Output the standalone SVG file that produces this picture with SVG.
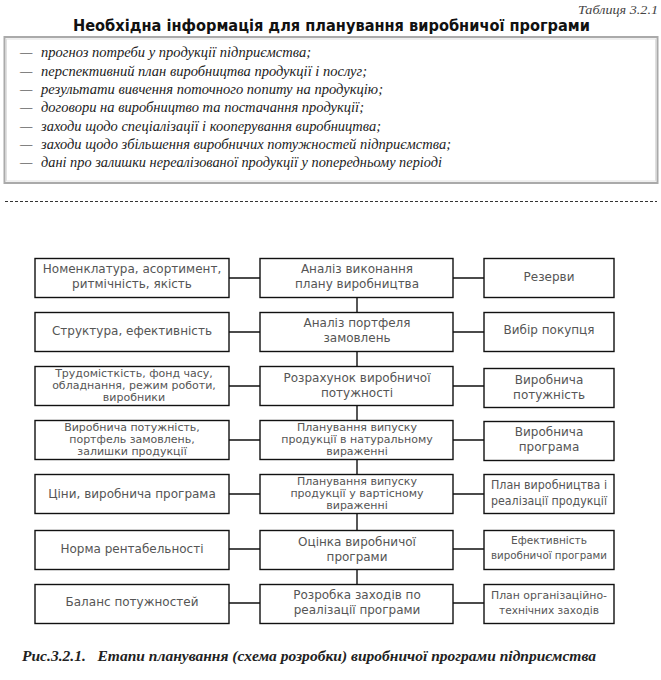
<svg xmlns="http://www.w3.org/2000/svg" width="661" height="680" viewBox="0 0 661 680">
<style>
.bx{fill:#fff;stroke:#111;stroke-width:1.4}
.t{font-family:"DejaVu Sans",sans-serif;font-size:12px;fill:#555;text-anchor:middle}
.ts{font-family:"DejaVu Sans",sans-serif;font-size:11px;fill:#555;text-anchor:middle}
.c{stroke:#111;stroke-width:1.4;fill:none}
.li{font-family:"Liberation Serif",serif;font-style:italic;font-size:14px;fill:#222}
</style>
<rect width="661" height="680" fill="#fff"/>
<text x="658" y="14" font-family="Liberation Serif,serif" font-style="italic" font-size="13" fill="#444" text-anchor="end" textLength="80" lengthAdjust="spacingAndGlyphs">Таблиця 3.2.1</text>
<text x="331.5" y="31" font-family="DejaVu Sans,sans-serif" font-weight="bold" font-size="15" fill="#111" text-anchor="middle" textLength="517" lengthAdjust="spacingAndGlyphs">Необхідна інформація для планування виробничої програми</text>
<g id="table">
<rect x="4.5" y="37" width="653" height="146" fill="#fff" stroke="#aaa" stroke-width="2"/>
<rect x="6.5" y="39" width="649" height="142" fill="none" stroke="#e0e0e0" stroke-width="1"/>
<g class="li">
<text x="20" y="57">—</text><text x="41" y="57" textLength="270" lengthAdjust="spacingAndGlyphs">прогноз потреби у продукції підприємства;</text>
<text x="20" y="75.5">—</text><text x="41" y="75.5" textLength="326" lengthAdjust="spacingAndGlyphs">перспективний план виробництва продукції і послуг;</text>
<text x="20" y="94">—</text><text x="41" y="94" textLength="342" lengthAdjust="spacingAndGlyphs">результати вивчення поточного попиту на продукцію;</text>
<text x="20" y="112">—</text><text x="41" y="112" textLength="323" lengthAdjust="spacingAndGlyphs">договори на виробництво та постачання продукції;</text>
<text x="20" y="130.5">—</text><text x="41" y="130.5" textLength="340" lengthAdjust="spacingAndGlyphs">заходи щодо спеціалізації і кооперування виробництва;</text>
<text x="20" y="149">—</text><text x="41" y="149" textLength="410" lengthAdjust="spacingAndGlyphs">заходи щодо збільшення виробничих потужностей підприємства;</text>
<text x="20" y="167">—</text><text x="41" y="167" textLength="401" lengthAdjust="spacingAndGlyphs">дані про залишки нереалізованої продукції у попередньому періоді</text>
</g>
</g>
<line x1="5" y1="201.5" x2="657" y2="201.5" stroke="#333" stroke-width="1" stroke-dasharray="3,2"/>
<g id="connectors">
<path class="c" d="M229 278H260M453 278H484M229 332H260M453 332H484M229 386H260M453 386H484M229 440H260M453 440H484M229 494H260M453 494H484M229 549H260M453 549H484M229 603H260M453 603H484"/>
<path class="c" d="M357 297V312M357 351V366M357 405V420M357 459V474M357 513V530M357 569V584"/>
</g>
<g id="l1"><rect class="bx" x="35" y="258.5" width="194" height="39"/><text class="t" x="132" y="273">Номенклатура, асортимент,</text><text class="t" x="132" y="288">ритмічність, якість</text></g>
<g id="c1"><rect class="bx" x="260" y="258.5" width="193" height="39"/><text class="t" x="357" y="273">Аналіз виконання</text><text class="t" x="357" y="288">плану виробництва</text></g>
<g id="r1"><rect class="bx" x="484" y="258.5" width="130" height="39"/><text class="t" x="549" y="281">Резерви</text></g>
<g id="l2"><rect class="bx" x="35" y="312.5" width="194" height="39"/><text class="t" x="132" y="335">Структура, ефективність</text></g>
<g id="c2"><rect class="bx" x="260" y="312.5" width="193" height="39"/><text class="t" x="357" y="327">Аналіз портфеля</text><text class="t" x="357" y="342">замовлень</text></g>
<g id="r2"><rect class="bx" x="484" y="312.5" width="130" height="39"/><text class="t" x="549" y="334">Вибір покупця</text></g>
<g id="l3"><rect class="bx" x="35" y="366.5" width="194" height="39"/><text class="ts" x="134" y="377">Трудомісткість, фонд часу,</text><text class="ts" x="134" y="389">обладнання, режим роботи,</text><text class="ts" x="134" y="401">виробники</text></g>
<g id="c3"><rect class="bx" x="260" y="366.5" width="193" height="39"/><text class="t" x="357" y="382">Розрахунок виробничої</text><text class="t" x="357" y="397">потужності</text></g>
<g id="r3"><rect class="bx" x="484" y="368.5" width="130" height="39"/><text class="t" x="549" y="384">Виробнича</text><text class="t" x="549" y="399">потужність</text></g>
<g id="l4"><rect class="bx" x="35" y="420.5" width="194" height="39"/><text class="ts" x="132" y="431">Виробнича потужність,</text><text class="ts" x="132" y="443">портфель замовлень,</text><text class="ts" x="132" y="455">залишки продукції</text></g>
<g id="c4"><rect class="bx" x="260" y="420.5" width="193" height="39"/><text class="ts" x="357" y="431">Планування випуску</text><text class="ts" x="357" y="443">продукції в натуральному</text><text class="ts" x="357" y="455">вираженні</text></g>
<g id="r4"><rect class="bx" x="484" y="421.5" width="130" height="39"/><text class="t" x="549" y="436">Виробнича</text><text class="t" x="549" y="451">програма</text></g>
<g id="l5"><rect class="bx" x="35" y="474.5" width="194" height="39"/><text class="t" x="132" y="498">Ціни, виробнича програма</text></g>
<g id="c5"><rect class="bx" x="260" y="474.5" width="193" height="39"/><text class="ts" x="357" y="485">Планування випуску</text><text class="ts" x="357" y="497">продукції у вартісному</text><text class="ts" x="357" y="509">вираженні</text></g>
<g id="r5"><rect class="bx" x="484" y="474.5" width="130" height="39"/><text class="t" x="549" y="489" textLength="116" lengthAdjust="spacingAndGlyphs">План виробництва і</text><text class="t" x="549" y="505" textLength="116" lengthAdjust="spacingAndGlyphs">реалізації продукції</text></g>
<g id="l6"><rect class="bx" x="35" y="530.5" width="194" height="39"/><text class="t" x="132" y="553">Норма рентабельності</text></g>
<g id="c6"><rect class="bx" x="260" y="530.5" width="193" height="39"/><text class="t" x="357" y="546">Оцінка виробничої</text><text class="t" x="357" y="561">програми</text></g>
<g id="r6"><rect class="bx" x="484" y="530.5" width="130" height="39"/><text class="ts" x="549" y="544" textLength="76" lengthAdjust="spacingAndGlyphs">Ефективність</text><text class="ts" x="549" y="559" textLength="116" lengthAdjust="spacingAndGlyphs">виробничої програми</text></g>
<g id="l7"><rect class="bx" x="35" y="584.5" width="194" height="39"/><text class="t" x="132" y="606">Баланс потужностей</text></g>
<g id="c7"><rect class="bx" x="260" y="584.5" width="193" height="39"/><text class="t" x="357" y="599">Розробка заходів по</text><text class="t" x="357" y="614">реалізації програми</text></g>
<g id="r7"><rect class="bx" x="484" y="584.5" width="130" height="39"/><text class="ts" x="549" y="599" textLength="116" lengthAdjust="spacingAndGlyphs">План організаційно-</text><text class="ts" x="549" y="614" textLength="100" lengthAdjust="spacingAndGlyphs">технічних заходів</text></g>
<text x="22" y="661" font-family="Liberation Serif,serif" font-style="italic" font-weight="bold" font-size="14" fill="#222" textLength="574" lengthAdjust="spacingAndGlyphs" xml:space="preserve">Рис.3.2.1.   Етапи планування (схема розробки) виробничої програми підприємства</text>
</svg>
